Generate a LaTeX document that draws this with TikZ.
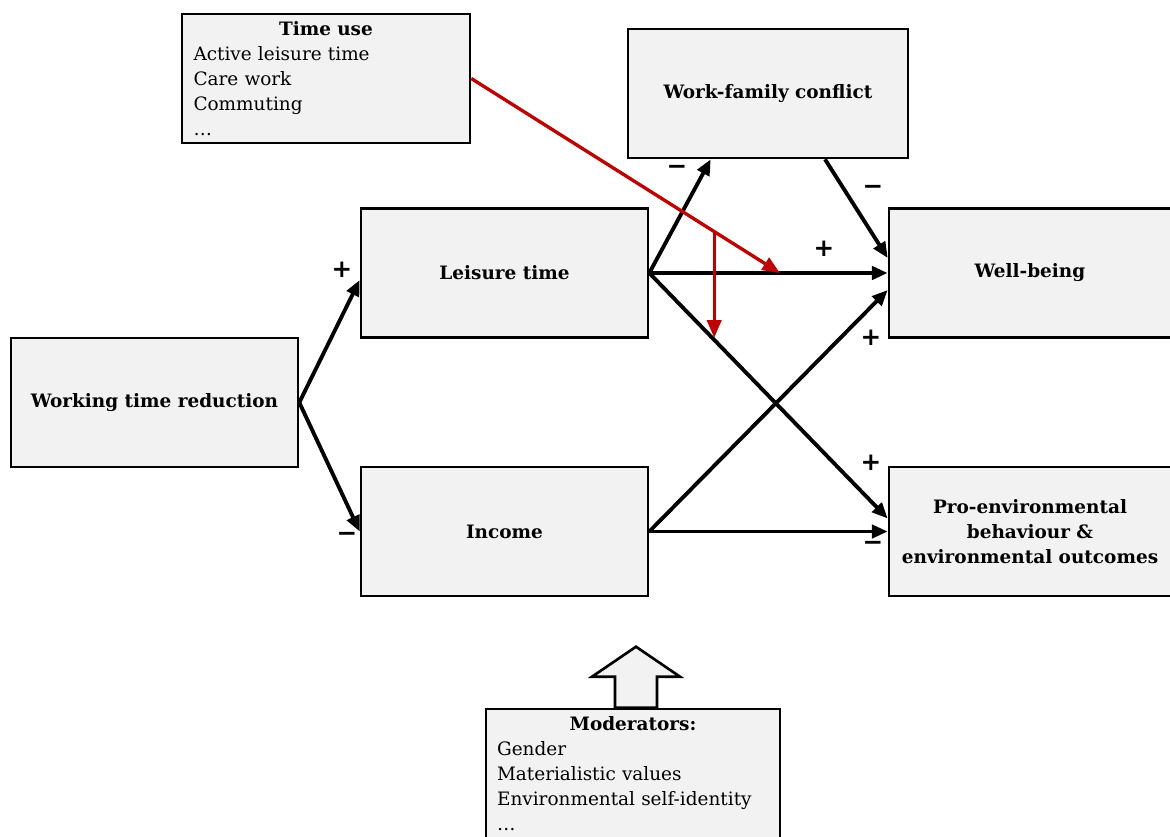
\documentclass[tikz,border=0pt]{standalone}
\usepackage{fontspec}
\setmainfont{DejaVu Serif}
\newfontfamily\signfont{DejaVu Sans}
\usetikzlibrary{arrows.meta,calc}
\definecolor{boxgrey}{HTML}{F2F2F2}
\definecolor{myred}{HTML}{C00000}
\tikzset{
  box/.style={draw, line width=1.5pt, fill=boxgrey, minimum width=5.74cm, minimum height=2.58cm,
    font=\fontsize{10.5}{14.2}\selectfont\bfseries, align=center, inner sep=0pt},
  listbox/.style={box, font=\fontsize{10.5}{14.2}\selectfont, align=left, inner xsep=0.2cm},
  link/.style={line width=2.2pt, -{Triangle[length=9pt,width=7.5pt]}},
  redlink/.style={line width=1.9pt, myred, -{Triangle[length=10pt,width=8pt]}},
  sign/.style={font=\signfont\bfseries\fontsize{14}{14}\selectfont, inner sep=0pt},
  hollow/.style={draw, line width=1.5pt, fill=boxgrey, line join=miter}
}

\begin{document}
\begin{tikzpicture}[x=0.02cm, y=-0.02cm]
\useasboundingbox (0,0) rectangle (1170,836);

\node[listbox, minimum width=5.76cm, text width=5.3cm] (tu) at (326,78.5)
  {\makebox[5.3cm]{\textbf{Time use}}\\Active leisure time\\Care work\\Commuting\\\dots};
\node[box, minimum width=5.6cm] (wfc) at (768,93.5) {Work-family conflict};
\node[box] (leisure) at (504.5,273) {Leisure time};
\node[box, minimum width=5.64cm] (wb) at (1030,273) {Well-being};
\node[box] (wtr) at (154.5,402.5) {Working time reduction};
\node[box] (income) at (504.5,531.5) {Income};
\node[box, minimum width=5.64cm] (proenv) at (1030,531.5) {Pro-environmental\\behaviour \&\\environmental outcomes};
\node[listbox, minimum width=5.88cm, minimum height=2.6cm, text width=5.44cm] (mod) at (633,774)
  {\makebox[5.44cm]{\textbf{Moderators:}}\\Gender\\Materialistic values\\Environmental self-identity\\\dots};

% moderator arrow
\draw[hollow] ($(mod.north)+(-18,0)$) -- ++(0,-31) -- ++(-23,0) -- ++(44,-30) -- ++(44,30) -- ++(-23,0) -- ++(0,31) -- cycle;

\draw[link] (wtr.east) -- ($(leisure.west)+(0,7)$);
\draw[link] (wtr.east) -- (income.west);
\draw[link] (leisure.east) -- ($(wfc.south west)+(84,0)$);
\draw[link] (wfc.south) ++(57,0) -- ($(wb.west)+(0,-15)$);
\draw[link] (leisure.east) -- (wb.west);
\draw[link] (leisure.east) -- ($(proenv.west)+(0,-13)$);
\draw[link] (income.east) -- ($(wb.west)+(0,17)$);
\draw[link] (income.east) -- (proenv.west);

% time use effects
\coordinate (redtip) at ($(leisure.east)!0.548!(wb.west)$);
\coordinate (redfork) at ($(tu.east)!0.787!(redtip)$);
\coordinate (redend) at ($(redfork |- leisure.south)+(0,-1)$);
\draw[redlink] (tu.east) -- (redtip);
\draw[redlink] (redfork) -- (redend);

\node[sign] (s1) at (342,270) {+};
\node[sign] (s2) at (347,537) {−};
\node[sign] (s3) at (677,170) {−};
\node[sign] (s4) at (873,190) {−};
\node[sign] (s5) at (824,249) {+};
\node[sign] (s6) at (871,338) {+};
\node[sign] (s7) at (871,463) {+};
\node[sign] (s8) at (873,546) {−};
\end{tikzpicture}
\end{document}
